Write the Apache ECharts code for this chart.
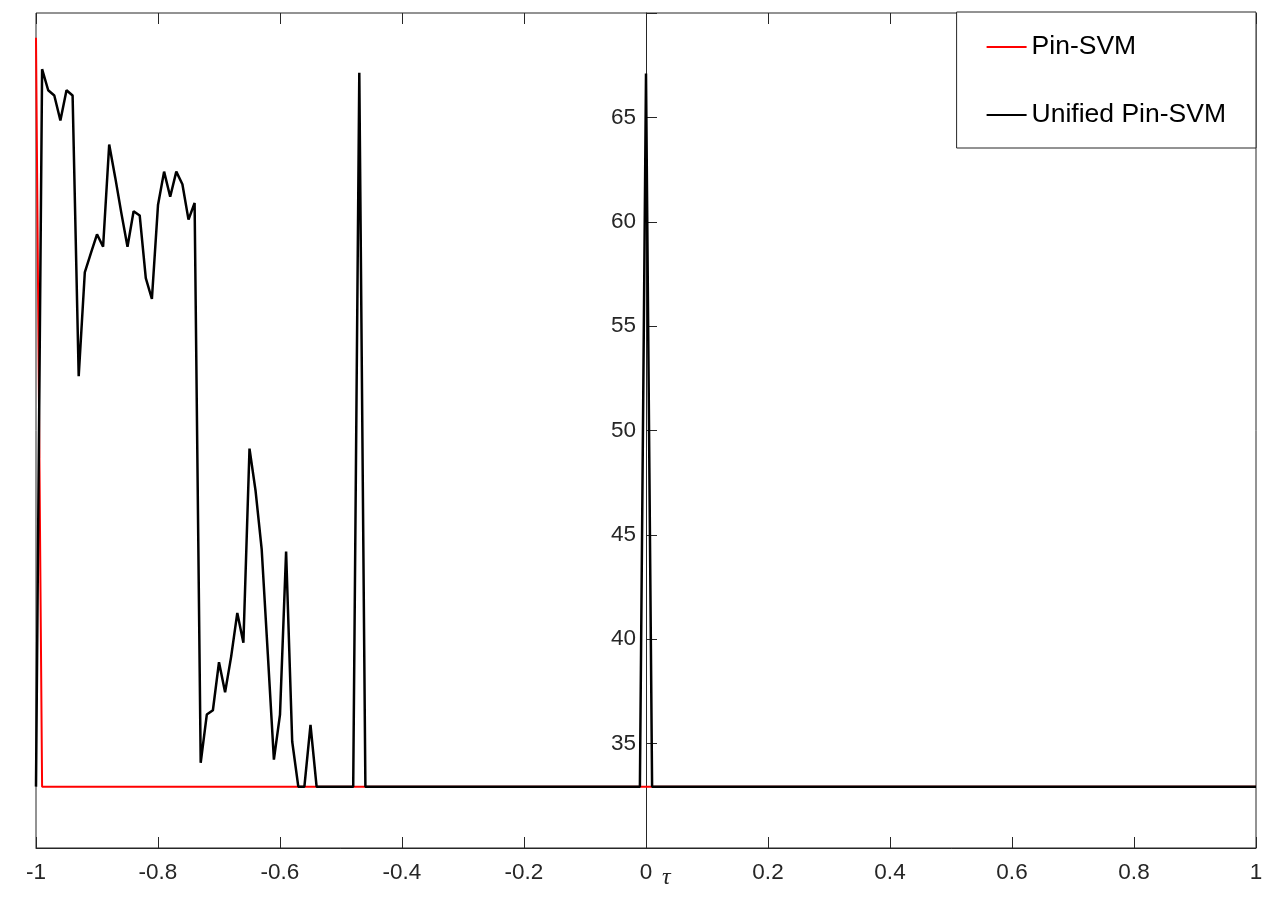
<!DOCTYPE html>
<html>
<head>
<meta charset="utf-8">
<script src="https://cdn.jsdelivr.net/npm/echarts@6/dist/echarts.min.js"></script>
<style>
  html, body { margin: 0; padding: 0; background: #fff; }
  #chart { width: 1280px; height: 908px; }
</style>
</head>
<body>
<div id="chart"></div>
<script>
// tau positions and values (baseline stretches kept as end points only)
const pinTau = [-1, -0.99, 1];
const pinVal = [68.81, 32.94, 32.94];

const unifiedTau = [
  -1, -0.99, -0.98, -0.97, -0.96, -0.95, -0.94, -0.93, -0.92, -0.91,
  -0.9, -0.89, -0.88, -0.87, -0.86, -0.85, -0.84, -0.83, -0.82, -0.81,
  -0.8, -0.79, -0.78, -0.77, -0.76, -0.75, -0.74, -0.73, -0.72, -0.71,
  -0.7, -0.69, -0.68, -0.67, -0.66, -0.65, -0.64, -0.63, -0.62, -0.61,
  -0.6, -0.59, -0.58, -0.57, -0.56, -0.55, -0.54, -0.48, -0.47, -0.46,
  -0.01, 0, 0.01, 1
];
const unifiedVal = [
  32.94, 67.31, 66.3, 66.05, 64.85, 66.3, 66.05, 52.6, 57.57, 58.5,
  59.4, 58.8, 63.7, 62.1, 60.4, 58.8, 60.5, 60.3, 57.3, 56.3,
  60.8, 62.4, 61.2, 62.4, 61.8, 60.1, 60.9, 34.08, 36.39, 36.6,
  38.9, 37.46, 39.18, 41.26, 39.83, 49.13, 47.1, 44.3, 39.3, 34.23,
  36.39, 44.2, 35.1, 32.94, 32.94, 35.9, 32.94, 32.94, 67.14, 32.94,
  32.94, 67.1, 32.94, 32.94
];

const font = '"Liberation Sans", Arial, sans-serif';
const axisColor = '#262626';

function pairs(xs, ys) {
  return xs.map((x, i) => [x, ys[i]]);
}

const chart = echarts.init(document.getElementById('chart'));
chart.setOption({
  animation: false,
  backgroundColor: '#fff',
  grid: {
    left: 36,
    right: 24,
    top: 13,
    bottom: 60,
    show: true,
    borderColor: axisColor,
    borderWidth: 1
  },
  legend: {
    orient: 'vertical',
    right: 24,
    top: 12,
    padding: [20, 30, 18, 30],
    itemGap: 38,
    itemWidth: 40,
    itemHeight: 2,
    icon: 'rect',
    backgroundColor: '#fff',
    borderColor: axisColor,
    borderWidth: 1,
    borderRadius: 0,
    textStyle: {
      fontSize: 26.5,
      lineHeight: 30,
      color: '#000',
      fontFamily: font
    },
    data: ['Pin-SVM', 'Unified Pin-SVM']
  },
  xAxis: [{
    type: 'value',
    min: -1,
    max: 1,
    interval: 0.2,
    position: 'bottom',
    axisLine: { onZero: false, lineStyle: { color: axisColor, width: 1 } },
    axisTick: { inside: true, length: 11, lineStyle: { color: axisColor } },
    axisLabel: { color: axisColor, fontSize: 22.5, margin: 13, fontFamily: font },
    splitLine: { show: false }
  }, {
    type: 'value',
    min: -1,
    max: 1,
    interval: 0.2,
    position: 'top',
    axisLine: { show: false, onZero: false },
    axisTick: { inside: true, length: 11, lineStyle: { color: axisColor } },
    axisLabel: { show: false },
    splitLine: { show: false }
  }],
  yAxis: {
    type: 'value',
    min: 30,
    max: 70,
    interval: 5,
    position: 'left',
    // move the y axis from the grid's left edge to tau = 0
    offset: -610,
    axisLine: { show: true, onZero: false, lineStyle: { color: axisColor, width: 1 } },
    axisTick: { show: true, inside: true, length: 11, lineStyle: { color: axisColor } },
    axisLabel: {
      color: axisColor,
      fontSize: 22.5,
      margin: 10,
      fontFamily: font,
      formatter: function (v) {
        return (v === 30 || v === 70) ? '' : String(v);
      }
    },
    splitLine: { show: false }
  },
  graphic: [{
    type: 'text',
    left: 662,
    top: 866,
    style: {
      text: 'τ',
      font: 'italic 24px "Liberation Serif", serif',
      fill: axisColor
    }
  }],
  series: [{
    name: 'Pin-SVM',
    type: 'line',
    symbol: 'none',
    color: '#ff0000',
    lineStyle: { width: 2, color: '#ff0000' },
    data: pairs(pinTau, pinVal)
  }, {
    name: 'Unified Pin-SVM',
    type: 'line',
    symbol: 'none',
    color: '#000000',
    lineStyle: { width: 2.5, color: '#000000' },
    data: pairs(unifiedTau, unifiedVal)
  }]
});
</script>
</body>
</html>
